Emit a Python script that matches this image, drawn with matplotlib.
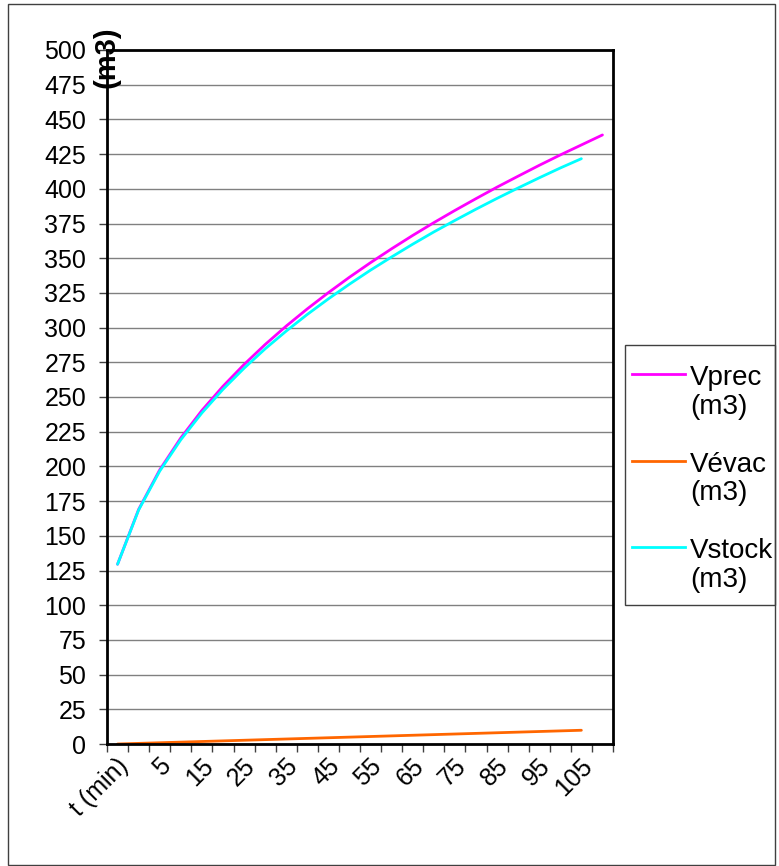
import matplotlib
matplotlib.use("Agg")
import matplotlib.pyplot as plt
import matplotlib.transforms as mtrans
from matplotlib.lines import Line2D
from matplotlib.patches import Rectangle

plt.rcParams["font.family"] = ["Liberation Sans", "DejaVu Sans"]

# categories as they sit on the axis (first one is the column header)
categories = ["t (min)", "0", "5", "10", "15", "20", "25", "30", "35", "40", "45",
              "50", "55", "60", "65", "70", "75", "80", "85", "90", "95", "100",
              "105", "110"]
v_prec = [129.5, 169.0, 197.5, 220.5, 240.3, 257.7, 273.4, 287.8, 301.1, 313.5,
          325.2, 336.3, 346.8, 356.8, 366.4, 375.6, 384.4, 392.9, 401.2, 409.1,
          416.9, 424.4, 431.6, 438.8]
v_evac = [0.0, 0.45, 0.9, 1.35, 1.8, 2.25, 2.7, 3.15, 3.6, 4.05, 4.5, 4.95, 5.4,
          5.85, 6.3, 6.75, 7.2, 7.65, 8.1, 8.55, 9.0, 9.45, 9.9]
v_stock = [129.5, 168.6, 196.6, 219.2, 238.5, 255.5, 270.7, 284.7, 297.5, 309.5,
           320.7, 331.3, 341.4, 350.9, 360.1, 368.9, 377.2, 385.3, 393.1, 400.6,
           407.9, 415.0, 421.7]
series_names = ["Vprec\n(m3)", "Vévac\n(m3)", "Vstock\n(m3)"]
series_colors = ["#ff00ff", "#ff6600", "#00ffff"]

W, H = 779, 866


def fx(px):
    return px / W


def fy(py):
    return 1 - py / H


fig = plt.figure(figsize=(W / 100, H / 100), dpi=100)
ax = fig.add_axes([fx(107), fy(744), fx(613) - fx(107), fy(50) - fy(744)])

for vals, col in zip([v_prec, v_evac, v_stock], series_colors):
    ax.plot(range(len(vals)), vals, color=col, lw=2.0, solid_capstyle="round")

ax.set_xlim(-0.5, len(categories) - 0.5)
ax.set_ylim(0, 500)
ax.set_yticks(range(0, 501, 25))
ax.yaxis.grid(True, color="#808080", lw=1.0)
ax.set_axisbelow(True)

ax.set_xticks(range(0, len(categories), 2))
ax.set_xticklabels(categories[::2], rotation=45, ha="right", va="top",
                   rotation_mode="anchor")
ax.set_xticks([i - 0.5 for i in range(len(categories) + 1)], minor=True)
ax.tick_params(axis="x", which="major", length=0, pad=7, labelsize=18)
ax.tick_params(axis="x", which="minor", length=6, width=1, color="#404040")
ax.tick_params(axis="y", length=6, width=1, color="#404040", labelsize=18, pad=9)
offset = mtrans.ScaledTranslation(-1 / 100, 0, fig.dpi_scale_trans)
for lab in ax.get_xticklabels():
    lab.set_transform(lab.get_transform() + offset)

for s in ax.spines.values():
    s.set_linewidth(2)
    s.set_color("black")

ax.text(0, 0.99, "(m3)", transform=ax.transAxes, rotation=90, ha="center",
        va="center", fontsize=21, fontweight="bold")

# outer chart border
fig.add_artist(Rectangle((fx(8), fy(865)), fx(775) - fx(8), fy(4) - fy(865),
                         transform=fig.transFigure, fill=False,
                         edgecolor="#404040", lw=1))

# legend box
fig.add_artist(Rectangle((fx(625), fy(605)), fx(775) - fx(625), fy(345) - fy(605),
                         transform=fig.transFigure, fill=False,
                         edgecolor="#404040", lw=1))
for i, (name, col) in enumerate(zip(series_names, series_colors)):
    y0 = 374 + i * 86.5
    fig.add_artist(Line2D([fx(632), fx(685)], [fy(y0), fy(y0)],
                          transform=fig.transFigure, color=col, lw=2))
    fig.text(fx(690), fy(y0 - 9), name, ha="left", va="top", fontsize=20,
             linespacing=1.15)

fig.savefig("out.png", dpi=100)
